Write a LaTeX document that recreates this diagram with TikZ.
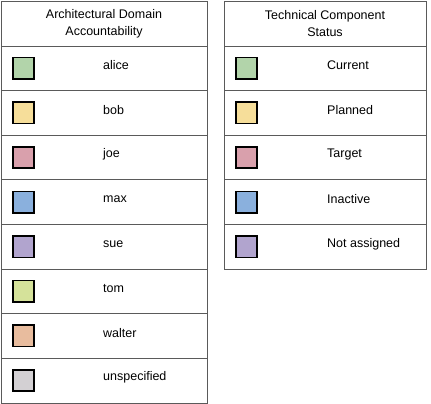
\documentclass[tikz,border=0pt]{standalone}
\usepackage{fontspec}
\setmainfont{Liberation Sans}
\definecolor{alicegreen}{RGB}{178,212,170}
\definecolor{bobyellow}{RGB}{246,222,154}
\definecolor{joepink}{RGB}{217,160,172}
\definecolor{maxblue}{RGB}{138,176,221}
\definecolor{suepurple}{RGB}{177,164,206}
\definecolor{tomlime}{RGB}{213,226,154}
\definecolor{walterorange}{RGB}{232,188,158}
\definecolor{unspecgrey}{RGB}{211,208,211}
\definecolor{tableline}{RGB}{90,90,90}
\tikzset{
  swatch/.style={draw=black, line width=1.7pt, minimum size=21.4pt, inner sep=0pt},
  entry/.style={anchor=west, inner sep=0pt, font=\fontsize{12.5}{15}\selectfont},
  heading/.style={align=center, inner sep=0pt, font=\fontsize{12.5}{17}\selectfont},
}
\begin{document}
\begin{tikzpicture}[x=1pt, y=-1pt]
    \useasboundingbox (0,0) rectangle (431,404);
    \draw[tableline, line width=0.9pt] (1,1) rectangle (207,403); % domain table
    \draw[tableline, line width=0.9pt] (224,1) rectangle (426,269); % status table
    \draw[tableline, line width=0.9pt] (1,46) -- (207,46) (1,90.6) -- (207,90.6) (1,135.2) -- (207,135.2) (1,179.8) -- (207,179.8)
          (1,224.4) -- (207,224.4) (1,269) -- (207,269) (1,313.6) -- (207,313.6) (1,358.2) -- (207,358.2); % domain rows
    \draw[tableline, line width=0.9pt] (224,46) -- (426,46) (224,90.6) -- (426,90.6) (224,135.2) -- (426,135.2) (224,179.8) -- (426,179.8)
          (224,224.4) -- (426,224.4); % status rows
    \node[heading] (domainhead) at (104,24) {Architectural Domain\\Accountability};
    \node[heading] (statushead) at (325,24) {Technical Component\\Status};
    % domain accountability
    \node[swatch, fill=alicegreen] (alicebox) at (23.5,68.3) {};
    \node[entry] (alice) at (103,65.5) {alice};
    \node[swatch, fill=bobyellow] (bobbox) at (23.5,112.9) {};
    \node[entry] (bob) at (103,110.1) {bob};
    \node[swatch, fill=joepink] (joebox) at (23.5,157.5) {};
    \node[entry] (joe) at (103,154.7) {joe};
    \node[swatch, fill=maxblue] (maxbox) at (23.5,202.1) {};
    \node[entry] (max) at (103,199.3) {max};
    \node[swatch, fill=suepurple] (suebox) at (23.5,246.7) {};
    \node[entry] (sue) at (103,243.9) {sue};
    \node[swatch, fill=tomlime] (tombox) at (23.5,291.3) {};
    \node[entry] (tom) at (103,288.5) {tom};
    \node[swatch, fill=walterorange] (walterbox) at (23.5,335.9) {};
    \node[entry] (walter) at (103,333.1) {walter};
    \node[swatch, fill=unspecgrey] (unspecbox) at (23.5,380.5) {};
    \node[entry] (unspec) at (103,377.7) {unspecified};
    % component status
    \node[swatch, fill=alicegreen] (currentbox) at (246.5,68.3) {};
    \node[entry] (current) at (327,65.5) {Current};
    \node[swatch, fill=bobyellow] (plannedbox) at (246.5,112.9) {};
    \node[entry] (planned) at (327,110.1) {Planned};
    \node[swatch, fill=joepink] (targetbox) at (246.5,157.5) {};
    \node[entry] (target) at (327,154.7) {Target};
    \node[swatch, fill=maxblue] (inactivebox) at (246.5,202.1) {};
    \node[entry] (inactive) at (327,199.3) {Inactive};
    \node[swatch, fill=suepurple] (notassignedbox) at (246.5,246.7) {};
    \node[entry] (notassigned) at (327,243.9) {Not assigned};
\end{tikzpicture}
\end{document}
